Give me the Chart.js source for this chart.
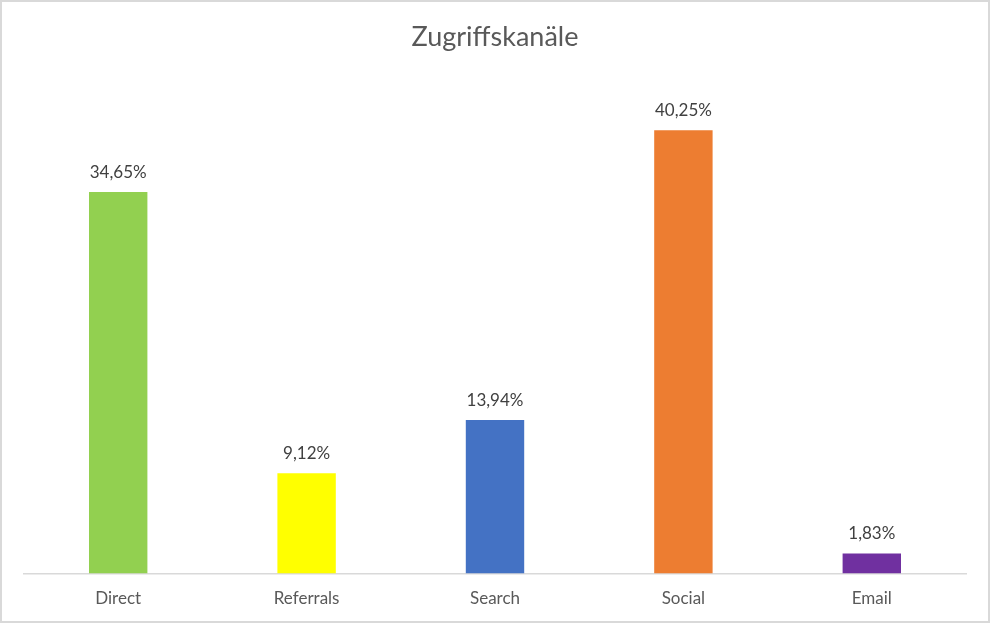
<!DOCTYPE html>
<html>
<head>
<meta charset="utf-8">
<script src="https://cdn.jsdelivr.net/npm/chart.js@4"></script>
<style>
  html, body { margin: 0; padding: 0; background: #fff; }
  #wrap { position: relative; width: 990px; height: 623px; }
  #frame { position: absolute; left: 0; top: 0; width: 990px; height: 623px; box-sizing: border-box; border: 2px solid #d9d9d9; pointer-events: none; }
</style>
</head>
<body>
<div id="wrap">
  <canvas id="bars" width="990" height="623"></canvas>
  <div id="frame"></div>
</div>
<script>
        const channels = ['Direct', 'Referrals', 'Search', 'Social', 'Email'];
        const shares = [34.65, 9.12, 13.94, 40.25, 1.83];
        const barColors = ['#92D050', '#FFFF00', '#4472C4', '#ED7D31', '#7030A0'];

        const fontName = 'Lato, "Open Sans", sans-serif';

        // writes the value above each bar, german decimal comma
        const valueLabels = {
            id: 'valueLabels',
            afterDatasetsDraw(chart) {
                const ctx = chart.ctx;
                const meta = chart.getDatasetMeta(0);
                ctx.save();
                ctx.font = '17px ' + fontName;
                ctx.fillStyle = '#404040';
                ctx.textAlign = 'center';
                ctx.textBaseline = 'bottom';
                meta.data.forEach((bar, i) => {
                    const txt = shares[i].toFixed(2).replace('.', ',') + '%';
                    ctx.fillText(txt, bar.x, bar.y - 11);
                });
                ctx.restore();
            }
        };

        const ctx = document.getElementById('bars').getContext('2d');

        new Chart(ctx, {
            type: 'bar',
            data: {
                labels: channels,
                datasets: [{
                    data: shares,
                    backgroundColor: barColors,
                    categoryPercentage: 1,
                    barPercentage: 0.31
                }]
            },
            options: {
                responsive: false,
                animation: false,
                layout: {
                    padding: { top: 21, left: 24, right: 24, bottom: 7 }
                },
                plugins: {
                    legend: { display: false },
                    tooltip: { enabled: false },
                    title: {
                        display: true,
                        text: 'Zugriffskanäle',
                        color: '#595959',
                        font: { family: fontName, size: 27, weight: 'normal' },
                        padding: { top: 0, bottom: 24.6 }
                    }
                },
                scales: {
                    x: {
                        grid: { display: false },
                        border: { display: true, color: '#d9d9d9', width: 1.5 },
                        ticks: {
                            color: '#595959',
                            padding: 7,
                            font: { family: fontName, size: 17 }
                        }
                    },
                    y: {
                        display: false,
                        min: 0,
                        max: 45
                    }
                }
            },
            plugins: [valueLabels]
        });
</script>
</body>
</html>
